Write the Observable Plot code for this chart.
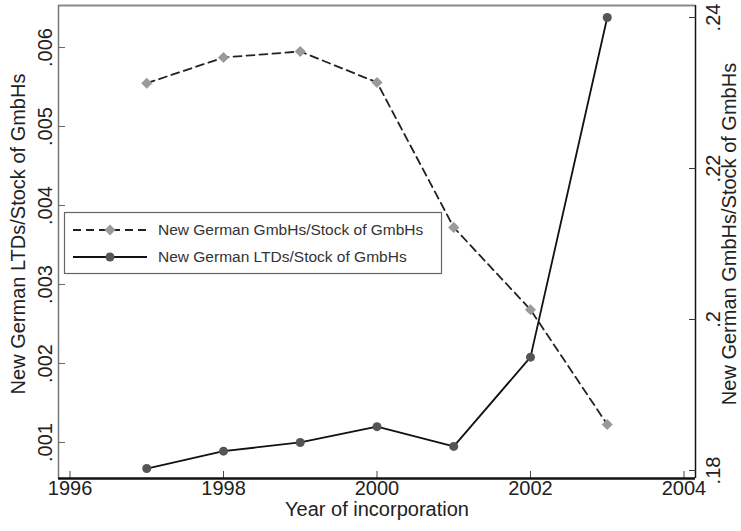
<!DOCTYPE html>
<html><head><meta charset="utf-8">
<script src="https://cdn.jsdelivr.net/npm/d3@7"></script>
<script src="https://cdn.jsdelivr.net/npm/@observablehq/plot@0.6"></script>
<style>body{margin:0;background:#fff} #chart{width:741px;height:531px}</style>
</head><body><div id="chart"></div>
<script>
const years = [1997, 1998, 1999, 2000, 2001, 2002, 2003];
const gmbhShare = [0.2313, 0.2347, 0.2355, 0.2314, 0.2122, 0.2013, 0.1861];
const ltdShare = [0.00067, 0.00089, 0.00100, 0.00120, 0.00095, 0.00208, 0.00638];
const xTicks = [1996, 1998, 2000, 2002, 2004];
const leftTicks = [0.001, 0.002, 0.003, 0.004, 0.005, 0.006];
const rightTicks = [0.18, 0.2, 0.22, 0.24];
const seriesNames = ["New German GmbHs/Stock of GmbHs", "New German LTDs/Stock of GmbHs"];
const xTitle = "Year of incorporation";
const leftTitle = "New German LTDs/Stock of GmbHs";
const rightTitle = "New German GmbHs/Stock of GmbHs";

const xDomain = [1995.85, 2004.15];
const leftDomain = [0.000544, 0.006532];
const rightDomain = [0.17894, 0.241589];
const toLeft = d3.scaleLinear().domain(rightDomain).range(leftDomain);
const fmt = d => String(d).replace(/^0\./, ".");
const font = "'Liberation Sans', Arial, sans-serif";

const gmbhData = years.map((year, i) => ({year, v: toLeft(gmbhShare[i])}));
const ltdData = years.map((year, i) => ({year, v: ltdShare[i]}));

const plot = Plot.plot({
  width: 741, height: 531,
  marginLeft: 58, marginRight: 46, marginTop: 5, marginBottom: 53,
  style: {fontFamily: font, fontSize: "20px", color: "#222", background: "#fff"},
  x: {domain: xDomain, axis: null},
  y: {domain: leftDomain, axis: null},
  marks: [
    Plot.ruleY([leftDomain[1]], {stroke: "#8a8a8a", strokeWidth: 2}),
    Plot.ruleX([xDomain[0]], {stroke: "#777", strokeWidth: 1.5}),
    Plot.ruleX([xDomain[1]], {stroke: "#111", strokeWidth: 1.5}),
    Plot.axisX(xTicks, {tickSize: -7, tickFormat: () => "", stroke: "#444", label: null}),
    Plot.axisY(leftTicks, {anchor: "left", tickSize: -7, tickFormat: () => "", stroke: "#666", label: null}),
    Plot.axisY(rightTicks.map(toLeft), {anchor: "right", tickSize: -7, tickFormat: () => "", stroke: "#333", label: null}),
    Plot.ruleY([leftDomain[0]], {stroke: "#111", strokeWidth: 2.5}),
    Plot.text(xTicks, {x: d => d, text: d => String(d), frameAnchor: "bottom", dy: 16, fontSize: 20, fill: "#222"}),
    Plot.text([xTitle], {frameAnchor: "bottom", dy: 37, fontSize: 20, fill: "#222"}),
    Plot.text(leftTicks, {y: d => d, text: fmt, frameAnchor: "left", textAnchor: "middle", dx: -13, rotate: -90, fontSize: 20, fill: "#222"}),
    Plot.text([leftTitle], {frameAnchor: "left", textAnchor: "middle", dx: -40, dy: -8, rotate: -90, fontSize: 20, fill: "#222"}),
    Plot.text(rightTicks, {y: d => toLeft(d), text: fmt, frameAnchor: "right", textAnchor: "middle", dx: 18, rotate: -90, fontSize: 20, fill: "#222"}),
    Plot.text([rightTitle], {frameAnchor: "right", textAnchor: "middle", dx: 34, dy: -8, rotate: -90, fontSize: 20, fill: "#222"}),
    Plot.line(gmbhData, {x: "year", y: "v", stroke: "#222", strokeWidth: 1.8, strokeDasharray: "8,5"}),
    Plot.dot(gmbhData, {x: "year", y: "v", symbol: "diamond2", r: 5, fill: "#9a9a9a", stroke: "none"}),
    Plot.line(ltdData, {x: "year", y: "v", stroke: "#111", strokeWidth: 1.8}),
    Plot.dot(ltdData, {x: "year", y: "v", r: 4.5, fill: "#555", stroke: "none"})
  ]
});
document.getElementById("chart").appendChild(plot);

// legend inside the plot area
const svg = d3.select(plot);
const lg = svg.append("g").attr("font-family", font).attr("font-size", 15.5).attr("fill", "#333").attr("text-anchor", "start");
lg.append("rect").attr("x", 64.5).attr("y", 212.5).attr("width", 377).attr("height", 61)
  .attr("fill", "#fff").attr("stroke", "#666").attr("stroke-width", 1.2);
const rowsY = [230, 257];
seriesNames.forEach((name, i) => {
  const y = rowsY[i];
  lg.append("line").attr("x1", 73).attr("x2", 147).attr("y1", y).attr("y2", y)
    .attr("stroke", i === 0 ? "#222" : "#111").attr("stroke-width", 1.8)
    .attr("stroke-dasharray", i === 0 ? "8,5" : null);
  if (i === 0) {
    lg.append("path").attr("d", d3.symbol(d3.symbolDiamond2, 78)()).attr("transform", `translate(110,${y})`).attr("fill", "#9a9a9a");
  } else {
    lg.append("circle").attr("cx", 110).attr("cy", y).attr("r", 4.5).attr("fill", "#555");
  }
  lg.append("text").attr("x", 158).attr("y", y).attr("dy", "0.35em").attr("text-anchor", "start").text(name);
});
</script>
</body></html>
